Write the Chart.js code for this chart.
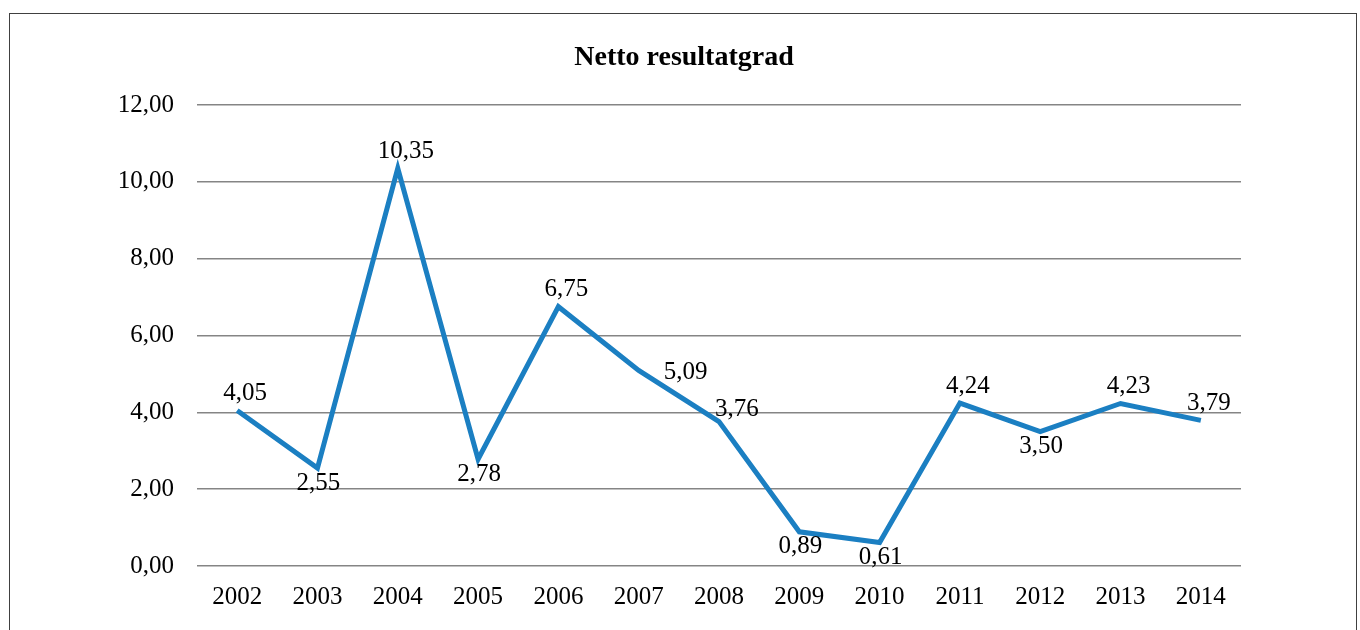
<!DOCTYPE html>
<html>
<head>
<meta charset="utf-8">
<script src="https://cdn.jsdelivr.net/npm/chart.js@4.4.1/dist/chart.umd.min.js"></script>
<style>
  html, body { margin: 0; padding: 0; background: #fff; overflow: hidden; }
  #wrap { position: relative; width: 1360px; height: 630px; }
  #frame { position: absolute; left: 9px; top: 13px; width: 1346px; height: 700px;
           border: 1.5px solid #404040; pointer-events: none; }
</style>
</head>
<body>
<div id="wrap">
  <canvas id="myChart" width="1360" height="630"></canvas>
  <div id="frame"></div>
</div>
<script>
// Data
const years = ['2002', '2003', '2004', '2005', '2006', '2007', '2008', '2009', '2010', '2011', '2012', '2013', '2014'];
const nettoResultatgrad = [4.05, 2.55, 10.35, 2.78, 6.75, 5.09, 3.76, 0.89, 0.61, 4.24, 3.50, 4.23, 3.79];
const yTicks = [0, 2, 4, 6, 8, 10, 12];
const chartTitle = 'Netto resultatgrad';

// where each value label sits relative to its point
const labelPlacement = ['above', 'below', 'above', 'below', 'above', 'right', 'upperRight',
                        'below', 'below', 'above', 'below', 'above', 'above'];

const serif = '"Liberation Serif", "Times New Roman", serif';
const fmt = v => v.toFixed(2).replace('.', ',');

// title centered on the whole frame + value labels next to points
const valueLabels = {
  id: 'valueLabels',
  afterDraw(chart) {
    const ctx = chart.ctx;
    ctx.save();
    ctx.font = 'bold 28px ' + serif;
    ctx.fillStyle = '#000';
    ctx.textAlign = 'center';
    ctx.textBaseline = 'middle';
    ctx.fillText(chartTitle, 684, 58);
    ctx.restore();
  },
  afterDatasetsDraw(chart) {
    const ctx = chart.ctx;
    const meta = chart.getDatasetMeta(0);
    ctx.save();
    ctx.font = '25px ' + serif;
    ctx.fillStyle = '#000';
    ctx.textBaseline = 'middle';
    meta.data.forEach((pt, i) => {
      const txt = fmt(nettoResultatgrad[i]);
      const pos = labelPlacement[i];
      if (pos === 'above') {
        ctx.textAlign = 'center';
        ctx.fillText(txt, pt.x + 8, pt.y - 17);
      } else if (pos === 'below') {
        ctx.textAlign = 'center';
        ctx.fillText(txt, pt.x + 1, pt.y + 15);
      } else if (pos === 'right') {
        ctx.textAlign = 'left';
        ctx.fillText(txt, pt.x + 25, pt.y + 2);
      } else {
        ctx.textAlign = 'left';
        ctx.fillText(txt, pt.x - 4, pt.y - 12);
      }
    });
    ctx.restore();
  }
};

const ctx = document.getElementById('myChart');

new Chart(ctx, {
  type: 'line',
  data: {
    labels: years,
    datasets: [{
      label: chartTitle,
      data: nettoResultatgrad,
      borderColor: '#1B7FC2',
      borderWidth: 5,
      pointRadius: 0,
      tension: 0,
      fill: false,
      borderJoinStyle: 'miter'
    }]
  },
  options: {
    responsive: false,
    animation: false,
    layout: { padding: { left: 0, right: 119, top: 105, bottom: 0 } },
    plugins: {
      legend: { display: false },
      tooltip: { enabled: false },
      title: { display: false }
    },
    scales: {
      x: {
        offset: true,
        afterFit: scale => { scale.height = 64; },
        grid: { display: false, drawTicks: false },
        border: { display: false },
        ticks: { color: '#000', font: { family: serif, size: 25 }, padding: 16, maxRotation: 0 }
      },
      y: {
        min: 0,
        max: 12,
        afterBuildTicks: scale => { scale.ticks = yTicks.map(v => ({ value: v })); },
        afterFit: scale => { scale.width = 197; },
        grid: { color: '#858585', lineWidth: 1.6, drawTicks: false },
        border: { display: false },
        ticks: {
          color: '#000',
          font: { family: serif, size: 25 },
          padding: 23,
          callback: v => fmt(v)
        }
      }
    }
  },
  plugins: [valueLabels]
});
</script>
</body>
</html>
